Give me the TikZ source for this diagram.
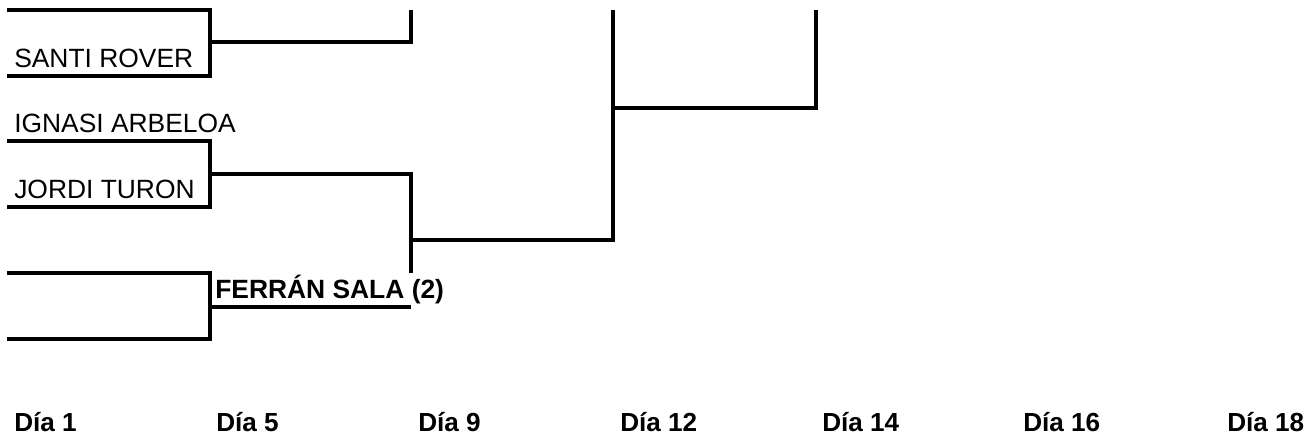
\documentclass[tikz,border=0pt]{standalone}
\usepackage{fontspec}
\setmainfont{Liberation Sans}
\begin{document}
\begin{tikzpicture}[x=0.75pt,y=-0.75pt,
  player/.style={anchor=base west, inner sep=0pt, font=\fontsize{19.8}{24}\selectfont},
  winner/.style={anchor=base west, inner sep=0pt, font=\fontsize{19.8}{24}\selectfont\bfseries},
  daylabel/.style={anchor=base west, inner sep=0pt, font=\fontsize{19.6}{24}\selectfont\bfseries},
  bracket/.style={line width=2.5pt, line join=miter, line cap=butt}]
\useasboundingbox (0,0) rectangle (1313,443);

% players
\node[player] (santi) at (14,67) {SANTI ROVER};
\node[player] (ignasi) at (14,132) {IGNASI ARBELOA};
\node[player] (jordi) at (14,198) {JORDI TURON};
\node[winner] (ferran) at (215,298) {FERRÁN SALA (2)};

% coordinates of the bracket
\coordinate (a1) at (7,10);   \coordinate (a2) at (210,10);
\coordinate (a3) at (210,76); \coordinate (a4) at (7,76);
\coordinate (b1) at (7,141);  \coordinate (b2) at (210,141);
\coordinate (b3) at (210,207);\coordinate (b4) at (7,207);
\coordinate (c1) at (7,273);  \coordinate (c2) at (210,273);
\coordinate (c3) at (210,339);\coordinate (c4) at (7,339);

\coordinate (ra) at (210,42);  \coordinate (rat) at (411,10); \coordinate (rab) at (411,42);
\coordinate (rb) at (210,174); \coordinate (rbt) at (411,174); \coordinate (rbb) at (411,273);
\coordinate (rc) at (210,307); \coordinate (rce) at (411,307);

\coordinate (sa) at (411,240); \coordinate (sat) at (613,10); \coordinate (sab) at (613,240);
\coordinate (ta) at (613,108); \coordinate (tat) at (816,10); \coordinate (tab) at (816,108);

% first round
\draw[bracket] (a1) -- (a2) -- (a3) -- (a4);
\draw[bracket] (b1) -- (b2) -- (b3) -- (b4);
\draw[bracket] (c1) -- (c2) -- (c3) -- (c4);

% second round
\draw[bracket] (ra) -- (rab) -- (rat);
\draw[bracket] (rb) -- (rbt) -- (rbb);
\draw[bracket] (rc) -- (rce);

% third round
\draw[bracket] (sa) -- (sab) -- (sat);
\draw[bracket] (ta) -- (tab) -- (tat);

% days
\node[daylabel] (d1) at (14,431) {Día 1};
\node[daylabel] (d5) at (216,431) {Día 5};
\node[daylabel] (d9) at (418,431) {Día 9};
\node[daylabel] (d12) at (620,431) {Día 12};
\node[daylabel] (d14) at (822,431) {Día 14};
\node[daylabel] (d16) at (1023,431) {Día 16};
\node[daylabel] (d18) at (1227,431) {Día 18};
\end{tikzpicture}
\end{document}
